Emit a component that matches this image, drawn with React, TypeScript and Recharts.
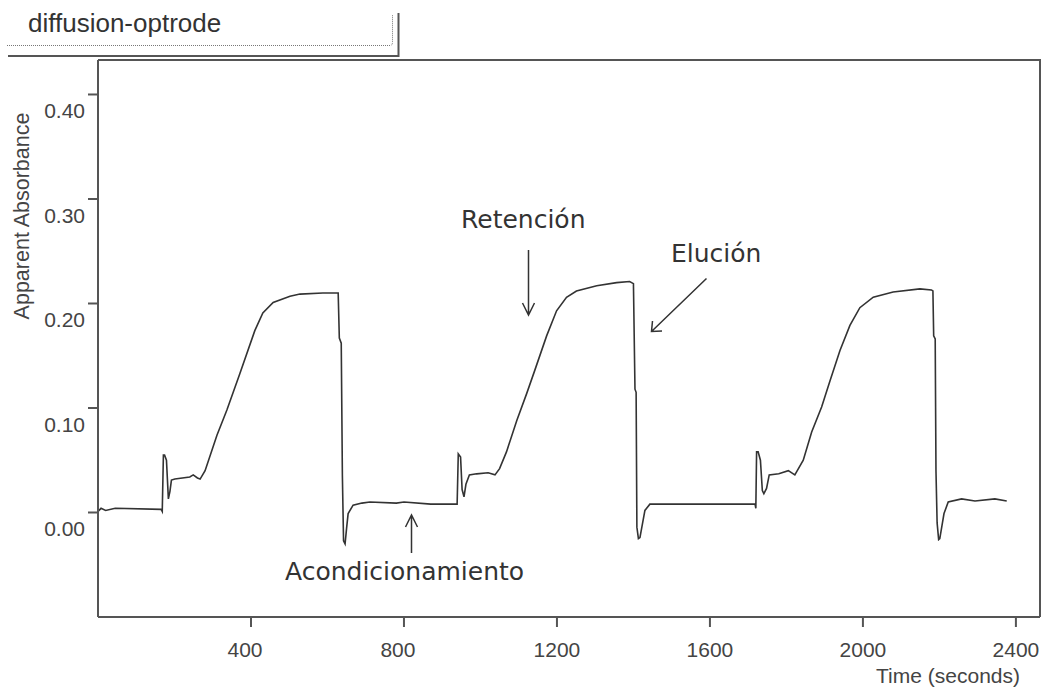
import { LineChart, Line, XAxis, YAxis } from 'recharts';

// time (s) and apparent absorbance, one row per phase
const TIME_S = [
  0, 8, 20, 45, 165, 168, 171, 174, 179, 184, 188, 192, 201, 240, 249, 260, 267, 280, 311, 337, 371, 410, 431, 458, 502, 528, 588, 628,
  631, 636, 639, 642, 646, 650, 654, 667, 690, 711,
  780, 800, 870, 935,
  939, 942, 948, 952, 957, 962, 971, 990, 1020, 1038, 1050, 1068, 1095, 1121, 1142, 1173, 1199, 1225, 1251, 1304, 1356, 1390, 1400,
  1404, 1407, 1409, 1413, 1417, 1430, 1443, 1469,
  1600, 1718,
  1720, 1722, 1726, 1732, 1737, 1741, 1748, 1755, 1780, 1805, 1822, 1844, 1866, 1892, 1914, 1940, 1966, 1992, 2027, 2079, 2149, 2179, 2183,
  2185, 2189, 2191, 2194, 2198, 2201, 2212, 2223, 2258, 2293, 2345, 2376,
];
const ABSORBANCE = [
  0.001, 0.004, 0.002, 0.004, 0.003, 0.001, 0.055, 0.055, 0.05, 0.013, 0.02, 0.031, 0.032, 0.034, 0.036, 0.033, 0.032, 0.04, 0.074, 0.098, 0.133, 0.174, 0.191, 0.201, 0.207, 0.209, 0.21, 0.21,
  0.167, 0.162, 0.035, -0.027, -0.03, -0.015, -0.001, 0.007, 0.009, 0.01,
  0.009, 0.01, 0.008, 0.008,
  0.008, 0.056, 0.053, 0.022, 0.015, 0.027, 0.036, 0.037, 0.038, 0.036, 0.042, 0.058, 0.088, 0.114, 0.136, 0.169, 0.193, 0.206, 0.212, 0.217, 0.22, 0.221, 0.219,
  0.118, 0.115, -0.014, -0.025, -0.024, 0.002, 0.008, 0.008,
  0.008, 0.008,
  0.004, 0.058, 0.058, 0.05, 0.021, 0.018, 0.023, 0.036, 0.037, 0.04, 0.036, 0.05, 0.077, 0.101, 0.126, 0.155, 0.179, 0.196, 0.206, 0.211, 0.214, 0.213, 0.212,
  0.169, 0.166, 0.04, -0.01, -0.026, -0.025, -0.001, 0.01, 0.013, 0.011, 0.013, 0.011,
];

const X_TICKS = [400, 800, 1200, 1600, 2000, 2400];
const Y_TICKS = [0, 0.1, 0.2, 0.3, 0.4];
const X_DOMAIN = [0, 2463];
const Y_DOMAIN = [-0.1, 0.433];

const data = TIME_S.map((t, i) => ({ t, a: ABSORBANCE[i] }));

const AXIS = '#555';
const INK = '#333';
const tickFont = { fontFamily: '"Liberation Sans", Arial, sans-serif', fontSize: 21, fill: '#444' };
const noteFont = { fontFamily: '"DejaVu Sans", Verdana, sans-serif', fontSize: 25, fill: INK };

function XTick({ x, y, payload }: any) {
  const s = String(payload.value);
  // the old plotter sets 3-digit labels a little left of their tick
  const dx = s.length < 4 ? -6 : 0;
  return (
    <text x={x + dx} y={y + 30} textAnchor="middle" {...tickFont}>{s}</text>
  );
}

function YTick({ x, y, payload }: any) {
  // labels sit under their ticks in the original
  return (
    <text x={x - 3} y={y + 24} textAnchor="end" {...tickFont}>{Number(payload.value).toFixed(2)}</text>
  );
}

function Overlay() {
  return (
    <svg width={1048} height={695} style={{ position: 'absolute', left: 0, top: 0, pointerEvents: 'none' }}>
      {/* title tab */}
      <text x={28} y={32} fontFamily='"Liberation Sans", Arial, sans-serif' fontSize={26} fill={INK}>diffusion-optrode</text>
      <path d="M7 45.5 H390 Q392.5 45.5 392.5 42 V15" fill="none" stroke="#777" strokeWidth={1} strokeDasharray="1 1" />
      <path d="M8 56 H398.5 V13" fill="none" stroke={AXIS} strokeWidth={2} />

      {/* top and right edges of the plot frame */}
      <path d="M98 60 H1040 V617" fill="none" stroke={AXIS} strokeWidth={2} />

      {/* axis titles */}
      <text transform="translate(29,216) rotate(-90)" textAnchor="middle" {...tickFont} fontSize={21.5}>Apparent Absorbance</text>
      <text x={1020} y={683} textAnchor="end" {...tickFont}>Time (seconds)</text>

      {/* annotations */}
      <text x={461} y={228} {...noteFont}>Retención</text>
      <g stroke={INK} strokeWidth={1.5} fill="none">
        <path d="M528.5 250 V315 M522.5 303 L528.5 315 L534.5 303" />
      </g>
      <text x={671} y={262} {...noteFont}>Elución</text>
      <g stroke={INK} strokeWidth={1.5} fill="none">
        <path d="M706.5 278.5 L651.5 331.5 M652.5 321 L651.5 331.5 L662 331" />
      </g>
      <text x={285} y={580} {...noteFont}>Acondicionamiento</text>
      <g stroke={INK} strokeWidth={1.5} fill="none">
        <path d="M411.5 553 V515 M405.5 527 L411.5 515 L417.5 527" />
      </g>
    </svg>
  );
}

export default function App() {
  return (
    <div style={{ position: 'absolute', left: 0, top: 0, width: 1048, height: 695, background: '#fff' }}>
      <LineChart width={1048} height={695} data={data} margin={{ top: 60, right: 8, bottom: 0, left: 0 }}>
        <XAxis
          dataKey="t" type="number" domain={X_DOMAIN} ticks={X_TICKS} allowDataOverflow
          height={78} tickSize={10} tickMargin={0} tick={<XTick />}
          axisLine={{ stroke: AXIS, strokeWidth: 2 }} tickLine={{ stroke: AXIS, strokeWidth: 2 }}
        />
        <YAxis
          type="number" domain={Y_DOMAIN} ticks={Y_TICKS} allowDataOverflow
          width={98} tickSize={10} tickMargin={0} tick={<YTick />}
          axisLine={{ stroke: AXIS, strokeWidth: 2 }} tickLine={{ stroke: AXIS, strokeWidth: 2 }}
        />
        <Line
          type="linear" dataKey="a" stroke="#333" strokeWidth={1.6} dot={false}
          isAnimationActive={false}
        />
      </LineChart>
      <Overlay />
    </div>
  );
}
